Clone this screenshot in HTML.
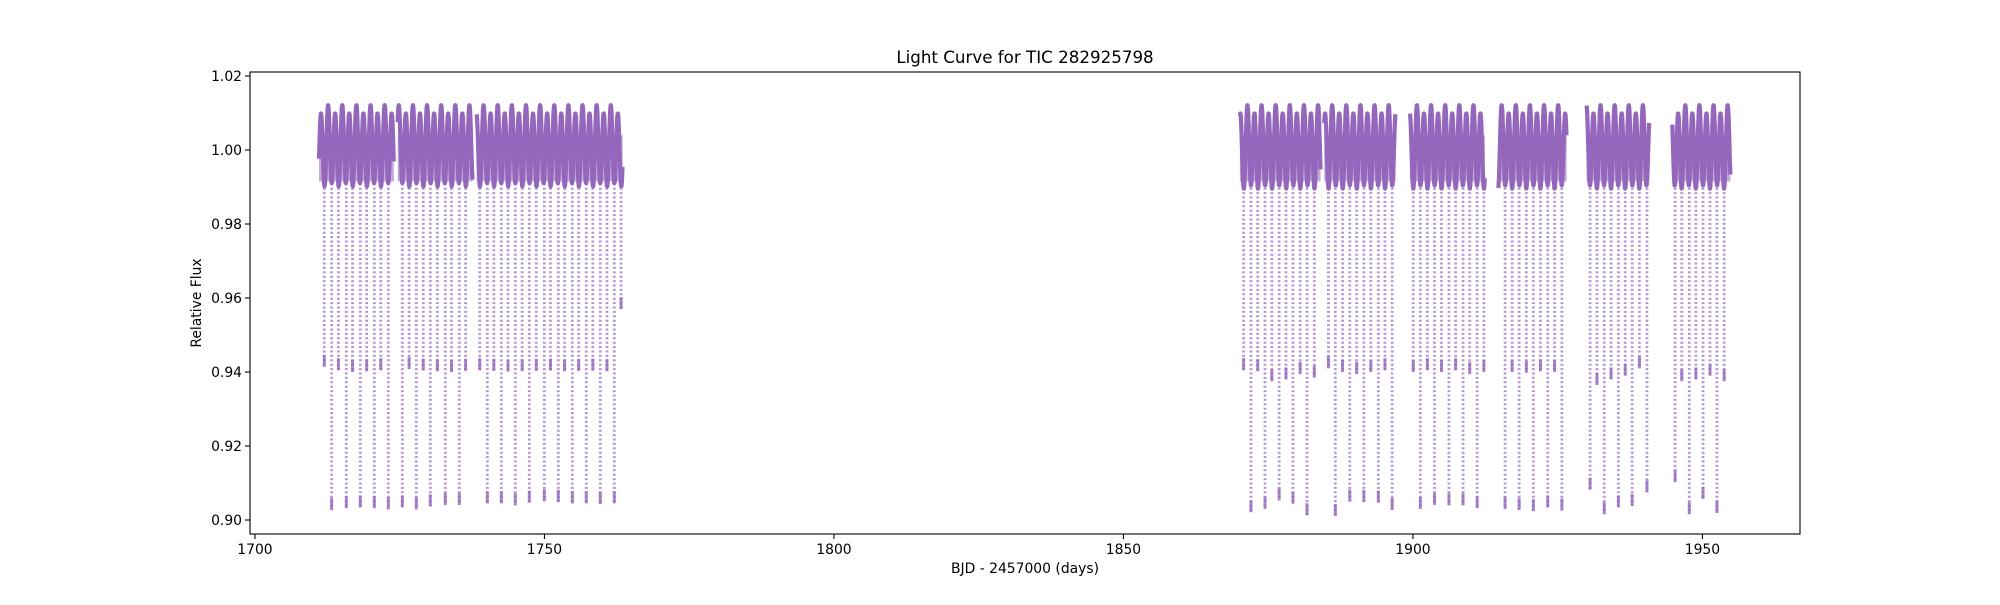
<!DOCTYPE html>
<html><head><meta charset="utf-8">
<style>
body{margin:0;background:#fff;}
svg text{font-family:"DejaVu Sans","Liberation Sans",sans-serif;fill:#000;}
</style></head>
<body>
<svg id="chart" width="2000" height="600" viewBox="0 0 2000 600" xmlns="http://www.w3.org/2000/svg">
<rect width="2000" height="600" fill="#fff"/>
<text x="1025" y="63" font-size="16.7" text-anchor="middle">Light Curve for TIC 282925798</text>
<g id="data-layer"></g>
<g id="axes"></g>
<text x="1025" y="573" font-size="13.9" text-anchor="middle">BJD - 2457000 (days)</text>
<text transform="translate(201,303) rotate(-90)" font-size="13.9" text-anchor="middle">Relative Flux</text>
</svg>
<script>
// ---- data ----
const segmentStarts = [1711.05, 1724.65, 1738.3, 1870.12, 1884.68, 1899.48, 1914.74, 1929.99, 1944.8];
const segmentEnds   = [1724.0, 1737.6, 1763.5, 1884.05, 1897.0, 1912.43, 1926.54, 1940.8, 1954.84];
const primaryTimes = [1713.24,1715.77,1718.19,1720.61,1723.03,1725.45,1727.86,1730.28,1732.87,1735.29,1740.13,1742.55,1744.96,1747.38,1749.97,1752.39,1754.81,1757.22,1759.64,1762.06,
 1872.02,1874.45,1876.89,1879.27,1881.71,1886.59,1889.09,1891.52,1894.02,1896.41,1901.28,1903.72,1906.22,1908.65,1911.09,1915.91,1918.34,1920.79,1923.28,1925.72,1930.6,1933.04,1935.48,1937.86,1940.42,1945.28,1947.73,1950.1,1952.5];
const primaryDepths = [0.9027,0.9032,0.9034,0.9032,0.9029,0.9034,0.9029,0.9037,0.9041,0.9041,0.9045,0.9045,0.9040,0.9047,0.9051,0.9049,0.9045,0.9045,0.9043,0.9045,
 0.9021,0.9030,0.9053,0.9044,0.9013,0.9011,0.9050,0.9049,0.9047,0.9027,0.9030,0.9041,0.9040,0.9040,0.9032,0.9030,0.9027,0.9024,0.9034,0.9026,0.9082,0.9016,0.9034,0.9038,0.9075,0.9102,0.9016,0.9057,0.9019];
const secondaryTimes = [1711.97,1714.41,1716.85,1719.29,1721.73,1726.62,1729.06,1731.50,1733.94,1736.38,1738.82,1741.26,1743.70,1746.15,1748.59,1751.03,1753.47,1755.91,1758.35,1760.79,1763.23,
 1870.75,1873.19,1875.63,1878.07,1880.52,1882.96,1885.40,1887.84,1890.28,1892.72,1895.16,1900.05,1902.49,1904.93,1907.37,1909.81,1912.25,1917.13,1919.58,1922.02,1924.46,1931.78,1934.22,1936.66,1939.11,1946.43,1948.87,1951.31,1953.75];
const secondaryDepths = [0.9414,0.9405,0.9400,0.9402,0.9405,0.9408,0.9404,0.9402,0.9400,0.9403,0.9405,0.9403,0.9401,0.9402,0.9403,0.9404,0.9402,0.9403,0.9404,0.9402,0.9570,
 0.9405,0.9402,0.9375,0.9380,0.9395,0.9385,0.9410,0.9400,0.9395,0.9400,0.9405,0.9400,0.9405,0.9400,0.9405,0.9395,0.9400,0.9400,0.9398,0.9402,0.9400,0.9365,0.9380,0.9390,0.9410,0.9375,0.9380,0.9390,0.9375];
const bandEpochs = [1713.24, 1872.02];
const bandPeriods = [2.441, 2.4395];
const bandMean = [1.0008, 1.0005];
const bandAmp = [0.0102, 0.0105];
const xTicks = [1700, 1750, 1800, 1850, 1900, 1950];
const yTicks = [0.90, 0.92, 0.94, 0.96, 0.98, 1.00, 1.02];
const yTickLabels = ["0.90","0.92","0.94","0.96","0.98","1.00","1.02"];

// ---- axis functions ----
const X0 = 250, X1 = 1800, Y0 = 72, Y1 = 534;
const xMin = 1699.14, xMax = 1966.85, yMin = 0.89622, yMax = 1.02108;
function sx(d){ return X0 + (d - xMin) / (xMax - xMin) * (X1 - X0); }
function sy(f){ return Y1 - (f - yMin) / (yMax - yMin) * (Y1 - Y0); }

const NS = "http://www.w3.org/2000/svg";
const layer = document.getElementById('data-layer');
const axes = document.getElementById('axes');
const COLOR = "#9467bd";
function inSeg(t){ for (let i=0;i<segmentStarts.length;i++) if (t>=segmentStarts[i] && t<=segmentEnds[i]) return true; return false; }

function drawDip(t, depth, name) {
  if (!inSeg(t)) return;
  const x = sx(t);
  const g = document.createElementNS(NS, 'g');
  
  
  const l = document.createElementNS(NS, 'line');
  l.setAttribute('x1', x); l.setAttribute('x2', x);
  l.setAttribute('y1', sy(0.991)); l.setAttribute('y2', sy(depth));
  l.setAttribute('stroke', COLOR); l.setAttribute('stroke-width', '2.8');
  l.setAttribute('stroke-dasharray', '2,2.4'); l.setAttribute('opacity', '0.7');
  g.appendChild(l);
  const b = document.createElementNS(NS, 'line');
  b.setAttribute('x1', x); b.setAttribute('x2', x);
  b.setAttribute('y1', sy(depth) - 12); b.setAttribute('y2', sy(depth));
  b.setAttribute('stroke', COLOR); b.setAttribute('stroke-width', '3'); b.setAttribute('opacity', '0.8');
  g.appendChild(b);
  layer.appendChild(g);
}
for (let i = 0; i < primaryTimes.length; i++) drawDip(primaryTimes[i], primaryDepths[i], 'primary-eclipse');
for (let i = 0; i < secondaryTimes.length; i++) drawDip(secondaryTimes[i], secondaryDepths[i], 'secondary-eclipse');

// band (out-of-eclipse variability)
for (let i = 0; i < segmentStarts.length; i++) {
  const s = segmentStarts[i] < 1800 ? 0 : 1;
  const fill = document.createElementNS(NS, 'rect');
  fill.setAttribute('x', sx(segmentStarts[i]));
  fill.setAttribute('width', sx(segmentEnds[i]) - sx(segmentStarts[i]));
  fill.setAttribute('y', sy(1.004));
  fill.setAttribute('height', sy(0.9915) - sy(1.004));
  fill.setAttribute('fill', COLOR);
  fill.setAttribute('opacity', '0.55');
  
  
  layer.appendChild(fill);
  let d = "";
  for (let t = segmentStarts[i]; t <= segmentEnds[i]; t += 0.025) {
    const ph = (t - bandEpochs[s]) / bandPeriods[s];
    const f = bandMean[s] - bandAmp[s] * Math.cos(4 * Math.PI * ph) + 0.0012 * Math.cos(2 * Math.PI * ph + 1.2);
    d += (d ? "L" : "M") + sx(t).toFixed(2) + "," + sy(f).toFixed(2);
  }
  const p = document.createElementNS(NS, 'path');
  p.setAttribute('d', d);
  p.setAttribute('fill', 'none');
  p.setAttribute('stroke', COLOR);
  p.setAttribute('stroke-width', '4.2');
  p.setAttribute('stroke-linejoin', 'round');
  
  
  layer.appendChild(p);
}

// axes frame
const frame = document.createElementNS(NS, 'rect');
frame.setAttribute('x', X0); frame.setAttribute('y', Y0);
frame.setAttribute('width', X1 - X0); frame.setAttribute('height', Y1 - Y0);
frame.setAttribute('fill', 'none'); frame.setAttribute('stroke', '#000'); frame.setAttribute('stroke-width', '1.1');


axes.appendChild(frame);

xTicks.forEach(v => {
  const x = sx(v);
  const tk = document.createElementNS(NS, 'line');
  tk.setAttribute('x1', x); tk.setAttribute('x2', x); tk.setAttribute('y1', Y1); tk.setAttribute('y2', Y1 + 5);
  tk.setAttribute('stroke', '#000'); tk.setAttribute('stroke-width', '1.1');
  
  
  axes.appendChild(tk);
  const tx = document.createElementNS(NS, 'text');
  tx.setAttribute('x', x); tx.setAttribute('y', Y1 + 20); tx.setAttribute('font-size', '13.9'); tx.setAttribute('text-anchor', 'middle');
  tx.textContent = String(v);
  
  
  axes.appendChild(tx);
});
yTicks.forEach((v, i) => {
  const y = sy(v);
  const tk = document.createElementNS(NS, 'line');
  tk.setAttribute('x1', X0 - 5); tk.setAttribute('x2', X0); tk.setAttribute('y1', y); tk.setAttribute('y2', y);
  tk.setAttribute('stroke', '#000'); tk.setAttribute('stroke-width', '1.1');
  
  
  axes.appendChild(tk);
  const tx = document.createElementNS(NS, 'text');
  tx.setAttribute('x', X0 - 8); tx.setAttribute('y', y + 5); tx.setAttribute('font-size', '13.9'); tx.setAttribute('text-anchor', 'end');
  tx.textContent = yTickLabels[i];
  
  
  axes.appendChild(tx);
});
</script>
</body></html>
